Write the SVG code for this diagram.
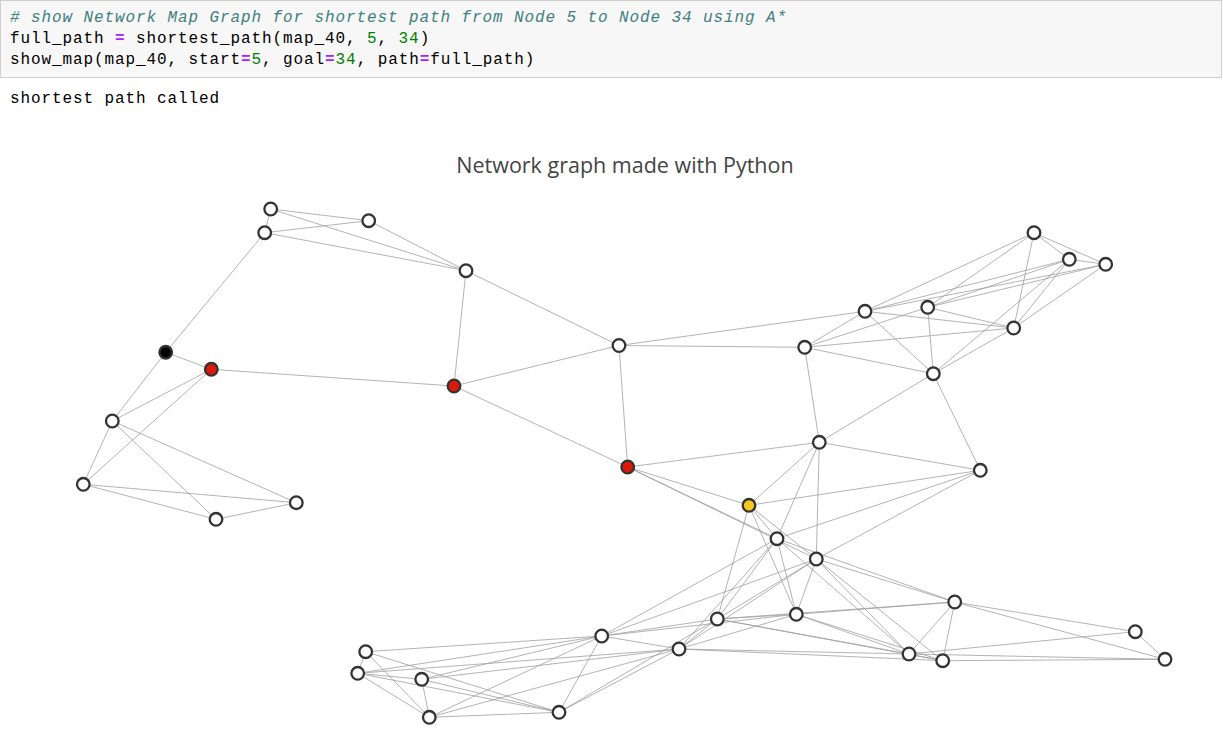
<svg xmlns="http://www.w3.org/2000/svg" width="1223" height="739" viewBox="0 0 1223 739">
<style>
.code{font-family:"Liberation Mono","DejaVu Sans Mono",monospace;font-size:16px;letter-spacing:0.9px;fill:#000;white-space:pre}
.cm{fill:#408080;font-style:italic}
.op{fill:#aa22ff;font-weight:bold}
.num{fill:#008000}
.title{font-family:"Open Sans","Liberation Sans",sans-serif;font-size:21.5px;fill:#444}
#edges line{stroke:#9f9f9f;stroke-width:0.8}
.n circle{r:6.3px;stroke:#333;stroke-width:2.3;fill:#fff}
.red circle{fill:#dd1a0a}
.blk circle{fill:#000}
.yel circle{fill:#f7c81e}
</style>
<rect width="1223" height="739" fill="#fff"/>
<rect x="0.5" y="0.5" width="1221" height="77" fill="#f7f7f7" stroke="#cfcfcf"/>
<text class="code" x="10" y="22"><tspan class="cm"># show Network Map Graph for shortest path from Node 5 to Node 34 using A*</tspan></text>
<text class="code" x="10" y="43">full_path <tspan class="op">=</tspan> shortest_path(map_40, <tspan class="num">5</tspan>, <tspan class="num">34</tspan>)</text>
<text class="code" x="10" y="64">show_map(map_40, start<tspan class="op">=</tspan><tspan class="num">5</tspan>, goal<tspan class="op">=</tspan><tspan class="num">34</tspan>, path<tspan class="op">=</tspan>full_path)</text>
<text class="code" x="10" y="103">shortest path called</text>
<text class="title" x="625" y="173" text-anchor="middle">Network graph made with Python</text>
<g id="edges">
<line x1="270.7" y1="209" x2="368.7" y2="220.7"/>
<line x1="270.7" y1="209" x2="264.7" y2="232.7"/>
<line x1="270.7" y1="209" x2="466" y2="270.7"/>
<line x1="368.7" y1="220.7" x2="264.7" y2="232.7"/>
<line x1="368.7" y1="220.7" x2="466" y2="270.7"/>
<line x1="264.7" y1="232.7" x2="466" y2="270.7"/>
<line x1="264.7" y1="232.7" x2="165.7" y2="352.3"/>
<line x1="165.7" y1="352.3" x2="211.3" y2="369.3"/>
<line x1="165.7" y1="352.3" x2="112.3" y2="421"/>
<line x1="211.3" y1="369.3" x2="454" y2="386"/>
<line x1="211.3" y1="369.3" x2="112.3" y2="421"/>
<line x1="211.3" y1="369.3" x2="83.3" y2="484.3"/>
<line x1="112.3" y1="421" x2="83.3" y2="484.3"/>
<line x1="112.3" y1="421" x2="216" y2="519.3"/>
<line x1="112.3" y1="421" x2="296.3" y2="502.7"/>
<line x1="83.3" y1="484.3" x2="216" y2="519.3"/>
<line x1="83.3" y1="484.3" x2="296.3" y2="502.7"/>
<line x1="216" y1="519.3" x2="296.3" y2="502.7"/>
<line x1="466" y1="270.7" x2="454" y2="386"/>
<line x1="466" y1="270.7" x2="619" y2="345.5"/>
<line x1="454" y1="386" x2="619" y2="345.5"/>
<line x1="454" y1="386" x2="627.7" y2="467"/>
<line x1="619" y1="345.5" x2="627.7" y2="467"/>
<line x1="619" y1="345.5" x2="804.7" y2="347.3"/>
<line x1="619" y1="345.5" x2="865" y2="311.3"/>
<line x1="804.7" y1="347.3" x2="865" y2="311.3"/>
<line x1="804.7" y1="347.3" x2="927.7" y2="307.3"/>
<line x1="804.7" y1="347.3" x2="1013.7" y2="328"/>
<line x1="804.7" y1="347.3" x2="933.3" y2="373.7"/>
<line x1="804.7" y1="347.3" x2="819.3" y2="442.3"/>
<line x1="865" y1="311.3" x2="1034" y2="232.7"/>
<line x1="865" y1="311.3" x2="1069.3" y2="259.3"/>
<line x1="865" y1="311.3" x2="1105.7" y2="264.3"/>
<line x1="865" y1="311.3" x2="1013.7" y2="328"/>
<line x1="865" y1="311.3" x2="933.3" y2="373.7"/>
<line x1="927.7" y1="307.3" x2="1034" y2="232.7"/>
<line x1="927.7" y1="307.3" x2="1069.3" y2="259.3"/>
<line x1="927.7" y1="307.3" x2="1105.7" y2="264.3"/>
<line x1="927.7" y1="307.3" x2="1013.7" y2="328"/>
<line x1="927.7" y1="307.3" x2="933.3" y2="373.7"/>
<line x1="1034" y1="232.7" x2="1069.3" y2="259.3"/>
<line x1="1034" y1="232.7" x2="1105.7" y2="264.3"/>
<line x1="1069.3" y1="259.3" x2="1105.7" y2="264.3"/>
<line x1="1034" y1="232.7" x2="1013.7" y2="328"/>
<line x1="1069.3" y1="259.3" x2="1013.7" y2="328"/>
<line x1="1105.7" y1="264.3" x2="1013.7" y2="328"/>
<line x1="1069.3" y1="259.3" x2="933.3" y2="373.7"/>
<line x1="1013.7" y1="328" x2="933.3" y2="373.7"/>
<line x1="933.3" y1="373.7" x2="819.3" y2="442.3"/>
<line x1="933.3" y1="373.7" x2="980.3" y2="470.3"/>
<line x1="819.3" y1="442.3" x2="980.3" y2="470.3"/>
<line x1="627.7" y1="467" x2="819.3" y2="442.3"/>
<line x1="627.7" y1="467" x2="749" y2="505.3"/>
<line x1="627.7" y1="467" x2="777" y2="538.7"/>
<line x1="627.7" y1="467" x2="816.3" y2="559"/>
<line x1="819.3" y1="442.3" x2="749" y2="505.3"/>
<line x1="819.3" y1="442.3" x2="777" y2="538.7"/>
<line x1="819.3" y1="442.3" x2="816.3" y2="559"/>
<line x1="749" y1="505.3" x2="980.3" y2="470.3"/>
<line x1="777" y1="538.7" x2="980.3" y2="470.3"/>
<line x1="816.3" y1="559" x2="980.3" y2="470.3"/>
<line x1="749" y1="505.3" x2="777" y2="538.7"/>
<line x1="749" y1="505.3" x2="816.3" y2="559"/>
<line x1="749" y1="505.3" x2="796.3" y2="614.3"/>
<line x1="749" y1="505.3" x2="717.3" y2="619"/>
<line x1="777" y1="538.7" x2="796.3" y2="614.3"/>
<line x1="816.3" y1="559" x2="796.3" y2="614.3"/>
<line x1="777" y1="538.7" x2="717.3" y2="619"/>
<line x1="816.3" y1="559" x2="717.3" y2="619"/>
<line x1="777" y1="538.7" x2="601.7" y2="636"/>
<line x1="816.3" y1="559" x2="601.7" y2="636"/>
<line x1="777" y1="538.7" x2="679" y2="649"/>
<line x1="816.3" y1="559" x2="679" y2="649"/>
<line x1="777" y1="538.7" x2="954.7" y2="602"/>
<line x1="816.3" y1="559" x2="954.7" y2="602"/>
<line x1="777" y1="538.7" x2="909" y2="654"/>
<line x1="816.3" y1="559" x2="909" y2="654"/>
<line x1="816.3" y1="559" x2="942.7" y2="660.7"/>
<line x1="796.3" y1="614.3" x2="954.7" y2="602"/>
<line x1="717.3" y1="619" x2="954.7" y2="602"/>
<line x1="796.3" y1="614.3" x2="909" y2="654"/>
<line x1="796.3" y1="614.3" x2="942.7" y2="660.7"/>
<line x1="717.3" y1="619" x2="909" y2="654"/>
<line x1="717.3" y1="619" x2="942.7" y2="660.7"/>
<line x1="679" y1="649" x2="909" y2="654"/>
<line x1="679" y1="649" x2="942.7" y2="660.7"/>
<line x1="954.7" y1="602" x2="909" y2="654"/>
<line x1="954.7" y1="602" x2="942.7" y2="660.7"/>
<line x1="909" y1="654" x2="942.7" y2="660.7"/>
<line x1="954.7" y1="602" x2="1135.3" y2="631.7"/>
<line x1="954.7" y1="602" x2="1165" y2="659.3"/>
<line x1="909" y1="654" x2="1135.3" y2="631.7"/>
<line x1="909" y1="654" x2="1165" y2="659.3"/>
<line x1="942.7" y1="660.7" x2="1165" y2="659.3"/>
<line x1="1135.3" y1="631.7" x2="1165" y2="659.3"/>
<line x1="601.7" y1="636" x2="717.3" y2="619"/>
<line x1="601.7" y1="636" x2="796.3" y2="614.3"/>
<line x1="601.7" y1="636" x2="679" y2="649"/>
<line x1="717.3" y1="619" x2="796.3" y2="614.3"/>
<line x1="679" y1="649" x2="796.3" y2="614.3"/>
<line x1="679" y1="649" x2="717.3" y2="619"/>
<line x1="559" y1="712.3" x2="717.3" y2="619"/>
<line x1="559" y1="712.3" x2="679" y2="649"/>
<line x1="559" y1="712.3" x2="601.7" y2="636"/>
<line x1="429.3" y1="717.3" x2="601.7" y2="636"/>
<line x1="429.3" y1="717.3" x2="679" y2="649"/>
<line x1="429.3" y1="717.3" x2="559" y2="712.3"/>
<line x1="365.7" y1="651.7" x2="357.7" y2="673.3"/>
<line x1="365.7" y1="651.7" x2="601.7" y2="636"/>
<line x1="365.7" y1="651.7" x2="429.3" y2="717.3"/>
<line x1="365.7" y1="651.7" x2="559" y2="712.3"/>
<line x1="357.7" y1="673.3" x2="421.7" y2="679.3"/>
<line x1="357.7" y1="673.3" x2="429.3" y2="717.3"/>
<line x1="357.7" y1="673.3" x2="559" y2="712.3"/>
<line x1="357.7" y1="673.3" x2="601.7" y2="636"/>
<line x1="357.7" y1="673.3" x2="679" y2="649"/>
<line x1="421.7" y1="679.3" x2="429.3" y2="717.3"/>
<line x1="421.7" y1="679.3" x2="559" y2="712.3"/>
<line x1="421.7" y1="679.3" x2="601.7" y2="636"/>
<line x1="421.7" y1="679.3" x2="679" y2="649"/>
</g>
<g id="node-a" class="n"><circle cx="270.7" cy="209"/></g>
<g id="node-b" class="n"><circle cx="368.7" cy="220.7"/></g>
<g id="node-c" class="n"><circle cx="264.7" cy="232.7"/></g>
<g id="node-d" class="n"><circle cx="466" cy="270.7"/></g>
<g id="node-5" class="n blk"><circle cx="165.7" cy="352.3"/></g>
<g id="node-f" class="n red"><circle cx="211.3" cy="369.3"/></g>
<g id="node-g" class="n red"><circle cx="454" cy="386"/></g>
<g id="node-h" class="n"><circle cx="112.3" cy="421"/></g>
<g id="node-i" class="n"><circle cx="83.3" cy="484.3"/></g>
<g id="node-j" class="n"><circle cx="216" cy="519.3"/></g>
<g id="node-k" class="n"><circle cx="296.3" cy="502.7"/></g>
<g id="node-l" class="n"><circle cx="619" cy="345.5"/></g>
<g id="node-m" class="n red"><circle cx="627.7" cy="467"/></g>
<g id="node-n" class="n"><circle cx="804.7" cy="347.3"/></g>
<g id="node-o" class="n"><circle cx="865" cy="311.3"/></g>
<g id="node-p" class="n"><circle cx="927.7" cy="307.3"/></g>
<g id="node-q" class="n"><circle cx="1034" cy="232.7"/></g>
<g id="node-r" class="n"><circle cx="1069.3" cy="259.3"/></g>
<g id="node-s" class="n"><circle cx="1105.7" cy="264.3"/></g>
<g id="node-t" class="n"><circle cx="1013.7" cy="328"/></g>
<g id="node-u" class="n"><circle cx="933.3" cy="373.7"/></g>
<g id="node-v" class="n"><circle cx="819.3" cy="442.3"/></g>
<g id="node-w" class="n"><circle cx="980.3" cy="470.3"/></g>
<g id="node-34" class="n yel"><circle cx="749" cy="505.3"/></g>
<g id="node-y" class="n"><circle cx="777" cy="538.7"/></g>
<g id="node-z" class="n"><circle cx="816.3" cy="559"/></g>
<g id="node-aa" class="n"><circle cx="954.7" cy="602"/></g>
<g id="node-ab" class="n"><circle cx="796.3" cy="614.3"/></g>
<g id="node-ac" class="n"><circle cx="717.3" cy="619"/></g>
<g id="node-ad" class="n"><circle cx="601.7" cy="636"/></g>
<g id="node-ae" class="n"><circle cx="679" cy="649"/></g>
<g id="node-af" class="n"><circle cx="909" cy="654"/></g>
<g id="node-ag" class="n"><circle cx="942.7" cy="660.7"/></g>
<g id="node-ah" class="n"><circle cx="1135.3" cy="631.7"/></g>
<g id="node-ai" class="n"><circle cx="1165" cy="659.3"/></g>
<g id="node-aj" class="n"><circle cx="365.7" cy="651.7"/></g>
<g id="node-ak" class="n"><circle cx="357.7" cy="673.3"/></g>
<g id="node-al" class="n"><circle cx="421.7" cy="679.3"/></g>
<g id="node-am" class="n"><circle cx="429.3" cy="717.3"/></g>
<g id="node-an" class="n"><circle cx="559" cy="712.3"/></g>
</svg>
